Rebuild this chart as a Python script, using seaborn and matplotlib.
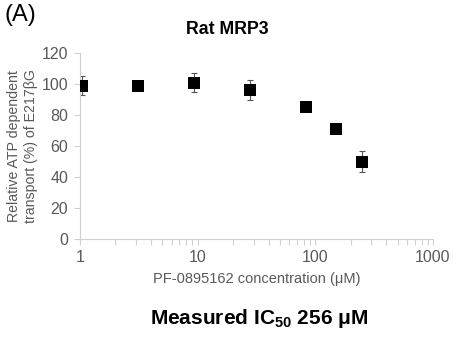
import matplotlib
matplotlib.use("Agg")
import matplotlib.pyplot as plt
import seaborn as sns
import pandas as pd
import numpy as np
from matplotlib.ticker import LogLocator, NullFormatter

concentration = [1.03, 3.09, 9.26, 27.8, 83.3, 150, 250]
transport = [99, 98.6, 100.8, 96, 85, 71, 50]
error = [6.3, 1.0, 6.0, 6.3, 2.5, 2.2, 7.0]
y_ticks = [0, 20, 40, 60, 80, 100, 120]
x_ticks = [1, 10, 100, 1000]
x_tick_labels = ["1", "10", "100", "1000"]

df = pd.DataFrame({"conc": concentration, "val": transport, "err": error})

sns.set_style("white")
plt.rcParams['font.family'] = ['Liberation Sans', 'DejaVu Sans']
plt.rcParams['mathtext.fontset'] = 'custom'
plt.rcParams['mathtext.rm'] = 'Liberation Sans'
plt.rcParams['mathtext.bf'] = 'Liberation Sans:bold'

fig = plt.figure(figsize=(4.53, 3.47), dpi=100)
W, H = 453, 347
ax_l, ax_r, ax_t, ax_b = 80, 433, 53, 239
ax = fig.add_axes([ax_l / W, 1 - ax_b / H, (ax_r - ax_l) / W, (ax_b - ax_t) / H])

gray = "#595959"
spine_c = "#d0d0d0"

ax.errorbar(df["conc"], df["val"], yerr=df["err"], fmt="none", ecolor="#555555",
            elinewidth=0.8, capsize=2.5, capthick=0.8, zorder=2)
sns.scatterplot(data=df, x="conc", y="val", marker="s", s=68, color="black",
                edgecolor="black", linewidth=0, ax=ax, zorder=3)

ax.set_xscale("log")
ax.set_xlim(1, 1000)
ax.set_ylim(0, 120)
ax.set_xticks(x_ticks)
ax.set_xticklabels(x_tick_labels)
ax.xaxis.set_minor_locator(LogLocator(base=10, subs=np.arange(2, 10)))
ax.xaxis.set_minor_formatter(NullFormatter())
ax.set_yticks(y_ticks)

for s in ["top", "right"]:
    ax.spines[s].set_visible(False)
for s in ["left", "bottom"]:
    ax.spines[s].set_color(spine_c)
    ax.spines[s].set_linewidth(0.8)

ax.tick_params(axis="both", which="major", colors=spine_c, labelcolor=gray,
               labelsize=11.5, length=4, width=0.8, direction="out")
ax.tick_params(axis="x", which="minor", colors=spine_c, length=4, width=0.8,
               direction="out")
ax.tick_params(axis="x", which="major", pad=4)
ax.tick_params(axis="y", which="major", pad=4.5)
ax.tick_params(axis="x", which="both", bottom=True)
ax.tick_params(axis="y", which="both", left=True)

ax.set_xlabel("PF-0895162 concentration (μM)", color=gray, fontsize=10.5, labelpad=5)
ax.set_ylabel("Relative ATP dependent\ntransport (%) of E217βG", color=gray,
              fontsize=10.2, linespacing=1.3)
ax.yaxis.set_label_coords((38 - ax_l) / (ax_r - ax_l), 0.5)

fig.text(227 / W, 1 - 29 / H, "Rat MRP3", ha="center", va="center",
         fontsize=12.8, fontweight="bold", color="black")
fig.text(4 / W, 1 - 15 / H, "(A)", ha="left", va="center", fontsize=17,
         color="black")
fig.text(259 / W, 1 - 318 / H, r"Measured IC$_\mathbf{50}$ 256 μM", ha="center",
         va="center", fontsize=15, fontweight="bold", color="black")

fig.savefig("out.png", dpi=100)
